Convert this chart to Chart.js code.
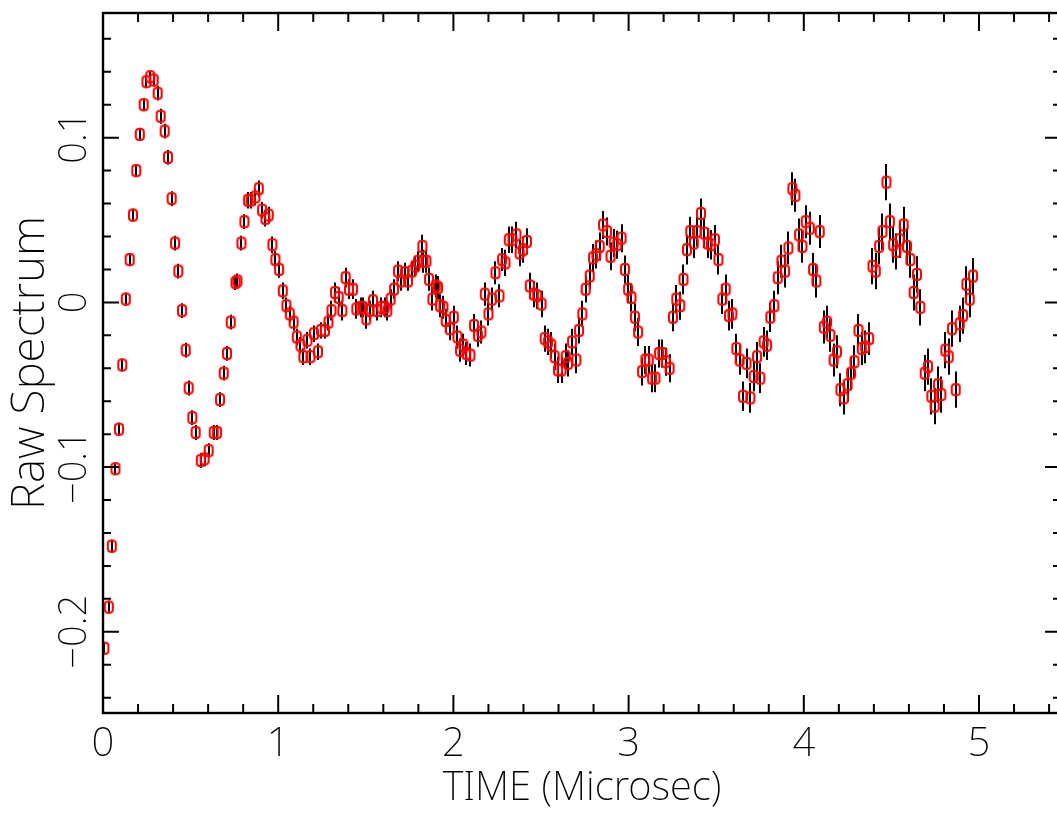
<!DOCTYPE html>
<html>
<head>
<meta charset="utf-8">
<script src="https://cdn.jsdelivr.net/npm/chart.js@4.4.1/dist/chart.umd.min.js"></script>
<style>
html,body{margin:0;padding:0;background:#fff;overflow:hidden;width:1057px;height:818px}
#wrap{width:1057px;height:818px;overflow:hidden;position:relative;background:#fff}
canvas{display:block}
</style>
</head>
<body>
<div id="wrap"><canvas id="c" width="1061" height="818" style="width:1061px;height:818px"></canvas></div>
<script>
// ---- data ----
const times = [
0.008,0.033,0.050,0.071,0.091,0.110,0.130,0.152,0.171,0.190,
0.210,0.232,0.248,0.270,0.289,0.312,0.329,0.352,0.371,0.392,
0.411,0.430,0.451,0.472,0.489,0.510,0.529,0.558,0.580,0.603,
0.632,0.651,0.668,0.689,0.708,0.729,0.756,0.767,0.790,0.807,
0.828,0.843,0.870,0.889,0.908,0.927,0.946,0.967,0.984,1.005,
1.026,1.047,1.066,1.088,1.106,1.127,1.144,1.167,1.184,1.204,
1.227,1.244,1.267,1.287,1.304,1.324,1.345,1.366,1.385,1.404,
1.427,1.446,1.471,1.484,1.503,1.522,1.541,1.564,1.589,1.608,
1.623,1.642,1.661,1.684,1.703,1.722,1.741,1.764,1.783,1.798,
1.823,1.829,1.846,1.861,1.880,1.899,1.912,1.924,1.943,1.956,
1.979,2.002,2.023,2.038,2.057,2.074,2.097,2.118,2.140,2.160,
2.179,2.200,2.221,2.240,2.263,2.278,2.297,2.316,2.337,2.360,
2.378,2.397,2.420,2.436,2.459,2.478,2.503,2.521,2.540,2.559,
2.578,2.597,2.617,2.641,2.654,2.677,2.702,2.717,2.736,2.755,
2.778,2.797,2.816,2.835,2.854,2.877,2.897,2.915,2.935,2.960,
2.979,2.997,3.016,3.036,3.054,3.077,3.096,3.115,3.134,3.153,
3.174,3.193,3.212,3.234,3.253,3.272,3.295,3.313,3.333,3.352,
3.372,3.390,3.413,3.433,3.452,3.470,3.493,3.513,3.535,3.554,
3.573,3.592,3.615,3.634,3.653,3.673,3.695,3.714,3.733,3.752,
3.771,3.790,3.809,3.832,3.851,3.872,3.893,3.912,3.935,3.952,
3.973,3.992,4.011,4.034,4.053,4.072,4.091,4.114,4.133,4.152,
4.170,4.189,4.209,4.228,4.250,4.270,4.289,4.312,4.331,4.350,
4.373,4.392,4.411,4.430,4.449,4.472,4.491,4.510,4.529,4.547,
4.570,4.589,4.608,4.627,4.646,4.665,4.690,4.709,4.728,4.747,
4.766,4.785,4.808,4.827,4.846,4.867,4.890,4.909,4.928,4.947,
4.966
];
const values = [
-0.210,-0.185,-0.148,-0.101,-0.077,-0.038,0.002,0.026,0.053,0.080,
0.102,0.120,0.134,0.137,0.135,0.127,0.113,0.104,0.088,0.063,
0.036,0.019,-0.005,-0.029,-0.052,-0.070,-0.079,-0.096,-0.095,-0.090,
-0.079,-0.079,-0.059,-0.043,-0.031,-0.012,0.012,0.013,0.036,0.049,
0.062,0.062,0.064,0.069,0.056,0.051,0.053,0.035,0.026,0.020,
0.007,-0.002,-0.007,-0.012,-0.021,-0.026,-0.033,-0.023,-0.033,-0.019,
-0.030,-0.017,-0.017,-0.012,-0.005,0.006,0.003,-0.005,0.015,0.008,
0.008,-0.004,-0.003,-0.003,-0.010,-0.005,0.001,-0.005,-0.003,-0.003,
-0.005,0.002,0.008,0.019,0.013,0.018,0.013,0.019,0.022,0.025,
0.034,0.025,0.025,0.014,0.002,0.010,0.009,-0.002,-0.003,-0.011,
-0.016,-0.009,-0.021,-0.029,-0.026,-0.031,-0.032,-0.014,-0.020,-0.018,
0.005,-0.007,0.002,0.018,0.004,0.026,0.024,0.038,0.038,0.041,
0.030,0.032,0.037,0.010,0.005,0.004,-0.001,-0.022,-0.024,-0.026,
-0.033,-0.041,-0.041,-0.033,-0.037,-0.024,-0.035,-0.017,-0.007,0.008,
0.016,0.027,0.029,0.034,0.047,0.043,0.028,0.036,0.035,0.039,
0.020,0.008,0.003,-0.009,-0.018,-0.042,-0.035,-0.035,-0.046,-0.046,
-0.031,-0.031,-0.036,-0.040,-0.009,0.002,-0.002,0.014,0.032,0.043,
0.036,0.043,0.054,0.042,0.036,0.035,0.038,0.026,0.002,0.008,
-0.008,-0.007,-0.028,-0.035,-0.057,-0.037,-0.058,-0.045,-0.033,-0.046,
-0.024,-0.026,-0.009,-0.002,0.015,0.025,0.019,0.033,0.069,0.065,
0.041,0.034,0.049,0.045,0.020,0.013,0.043,-0.015,-0.012,-0.020,
-0.035,-0.030,-0.053,-0.058,-0.050,-0.043,-0.036,-0.017,-0.028,-0.027,
-0.022,0.022,0.019,0.034,0.043,0.073,0.049,0.035,0.031,0.038,
0.047,0.034,0.026,0.006,0.017,-0.003,-0.043,-0.039,-0.057,-0.063,
-0.050,-0.056,-0.029,-0.033,-0.016,-0.053,-0.013,-0.008,0.011,0.002,
0.016
];
const errors = [
0.004,0.004,0.004,0.004,0.004,0.004,0.004,0.004,0.004,0.004,
0.004,0.004,0.004,0.004,0.004,0.0045,0.0045,0.0045,0.0045,0.0045,
0.0045,0.0045,0.0045,0.0045,0.0045,0.0045,0.0045,0.0045,0.0045,0.0045,
0.0045,0.0045,0.0045,0.0045,0.0045,0.0045,0.0045,0.0045,0.0045,0.0045,
0.005,0.005,0.005,0.005,0.005,0.005,0.005,0.005,0.005,0.005,
0.005,0.005,0.005,0.005,0.005,0.005,0.005,0.005,0.005,0.005,
0.005,0.005,0.005,0.005,0.006,0.006,0.006,0.006,0.006,0.006,
0.006,0.006,0.006,0.006,0.006,0.006,0.006,0.006,0.006,0.006,
0.006,0.006,0.006,0.006,0.006,0.006,0.006,0.006,0.006,0.006,
0.007,0.007,0.007,0.007,0.007,0.007,0.007,0.007,0.007,0.007,
0.007,0.007,0.007,0.007,0.007,0.007,0.007,0.007,0.007,0.007,
0.007,0.007,0.007,0.007,0.007,0.007,0.008,0.008,0.008,0.008,
0.008,0.008,0.008,0.008,0.008,0.008,0.008,0.008,0.008,0.008,
0.008,0.008,0.008,0.008,0.008,0.008,0.008,0.008,0.008,0.008,
0.008,0.0085,0.0085,0.0085,0.0085,0.0085,0.0085,0.0085,0.0085,0.0085,
0.0085,0.0085,0.0085,0.0085,0.0085,0.0085,0.0085,0.0085,0.0085,0.0085,
0.0085,0.0085,0.0085,0.0085,0.0085,0.0085,0.0085,0.009,0.009,0.009,
0.009,0.009,0.009,0.009,0.009,0.009,0.009,0.009,0.009,0.009,
0.009,0.009,0.009,0.009,0.009,0.009,0.009,0.009,0.009,0.009,
0.009,0.009,0.009,0.009,0.010,0.010,0.010,0.010,0.010,0.010,
0.010,0.010,0.010,0.010,0.010,0.010,0.010,0.010,0.010,0.010,
0.010,0.010,0.010,0.010,0.010,0.010,0.010,0.010,0.010,0.010,
0.010,0.011,0.011,0.011,0.011,0.011,0.011,0.011,0.011,0.011,
0.011,0.011,0.011,0.011,0.011,0.011,0.011,0.011,0.011,0.011,
0.011,0.011,0.011,0.011,0.011,0.011,0.011,0.011,0.011,0.011,
0.011
];
const xTickValues = [0, 1, 2, 3, 4, 5];
const xTickLabels = ['0', '1', '2', '3', '4', '5'];
const yTickValues = [-0.2, -0.1, 0, 0.1];
const yTickLabels = ['\u22120.2', '\u22120.1', '0', '0.1'];
const xTitle = 'TIME (Microsec)';
const yTitle = 'Raw Spectrum';
const X_MIN = 0, X_MAX = 5.468;
const Y_MIN = -0.2493, Y_MAX = 0.1757;

// ---- styling ----
const FAMILY = '"Noto Sans", "Liberation Sans Narrow", "DejaVu Sans", sans-serif';
const xTickFont = { family: FAMILY, size: 40, weight: '200', lineHeight: 1.2 };
const yTickFont = { family: FAMILY, size: 38, weight: '200', lineHeight: 1.2 };
const xTitleFont = { family: FAMILY, size: 40, weight: '200', lineHeight: 1.2 };
const yTitleFont = { family: FAMILY, size: 46, weight: '200', lineHeight: 1.2 };

// marker: small hollow red rounded box
const marker = document.createElement('canvas');
marker.width = 12; marker.height = 15;
(function () {
  const c = marker.getContext('2d');
  c.strokeStyle = '#ff0000';
  c.lineWidth = 2;
  c.beginPath();
  if (c.roundRect) c.roundRect(2, 2, 8, 11, 3); else c.rect(2, 2, 8, 11);
  c.stroke();
})();

const points = times.map((t, i) => ({ x: t, y: values[i] }));

const errorBars = {
  id: 'errorBars',
  beforeDatasetsDraw(chart) {
    const { ctx, scales: { x, y } } = chart;
    ctx.save();
    ctx.strokeStyle = '#000';
    ctx.lineWidth = 2;
    ctx.beginPath();
    for (let i = 0; i < times.length; i++) {
      const px = Math.round(x.getPixelForValue(times[i]));
      ctx.moveTo(px, y.getPixelForValue(values[i] - errors[i]));
      ctx.lineTo(px, y.getPixelForValue(values[i] + errors[i]));
    }
    ctx.stroke();
    ctx.restore();
  }
};

const frame = {
  id: 'frame',
  afterDraw(chart) {
    const { ctx, chartArea: a, scales: { x, y } } = chart;
    ctx.save();
    ctx.strokeStyle = '#000';
    ctx.lineWidth = 2.4;
    ctx.strokeRect(a.left, a.top, a.right - a.left, a.bottom - a.top);
    ctx.lineWidth = 2;
    ctx.beginPath();
    const tx = (v, len) => {
      const px = x.getPixelForValue(v);
      ctx.moveTo(px, a.bottom); ctx.lineTo(px, a.bottom - len);
      ctx.moveTo(px, a.top); ctx.lineTo(px, a.top + len);
    };
    const ty = (v, len) => {
      const py = y.getPixelForValue(v);
      ctx.moveTo(a.left, py); ctx.lineTo(a.left + len, py);
      ctx.moveTo(a.right, py); ctx.lineTo(a.right - len, py);
    };
    for (let i = 0; i <= 27; i++) tx(i * 0.2, i % 5 === 0 ? 18 : 9);
    for (let i = -12; i <= 8; i++) ty(i * 0.02, i % 5 === 0 ? 16 : 8);
    ctx.stroke();
    ctx.restore();
  }
};

new Chart(document.getElementById('c'), {
  type: 'scatter',
  data: {
    datasets: [{
      data: points,
      pointStyle: marker,
      pointRadius: 6,
      pointHoverRadius: 6,
      showLine: false
    }]
  },
  options: {
    responsive: false,
    animation: false,
    devicePixelRatio: 1,
    layout: { autoPadding: false, padding: { top: 13, right: 0, bottom: 0, left: 0 } },
    plugins: { legend: { display: false }, tooltip: { enabled: false } },
    scales: {
      x: {
        type: 'linear', min: X_MIN, max: X_MAX,
        grid: { display: false, drawTicks: false },
        border: { display: false },
        afterBuildTicks: s => { s.ticks = xTickValues.map(v => ({ value: v })); },
        afterFit: s => { s.height = 105; s.paddingLeft = 0; s.paddingRight = 0; },
        ticks: {
          autoSkip: false, minRotation: 0, maxRotation: 0, padding: 8,
          color: '#000', font: xTickFont,
          callback: (v, i) => xTickLabels[i]
        },
        title: { display: true, text: xTitle, color: '#000', font: xTitleFont, padding: { top: 0, bottom: 5 } }
      },
      y: {
        type: 'linear', min: Y_MIN, max: Y_MAX,
        grid: { display: false, drawTicks: false },
        border: { display: false },
        afterBuildTicks: s => { s.ticks = yTickValues.map(v => ({ value: v })); },
        afterFit: s => { s.width = 103; s.paddingTop = 0; s.paddingBottom = 0; },
        ticks: {
          autoSkip: false, minRotation: 90, maxRotation: 90, crossAlign: 'center', padding: -9,
          color: '#000', font: yTickFont,
          callback: (v, i) => yTickLabels[i]
        },
        title: { display: true, text: yTitle, color: '#000', font: yTitleFont, padding: { top: 3, bottom: 0 } }
      }
    }
  },
  plugins: [errorBars, frame]
});
</script>
</body>
</html>
